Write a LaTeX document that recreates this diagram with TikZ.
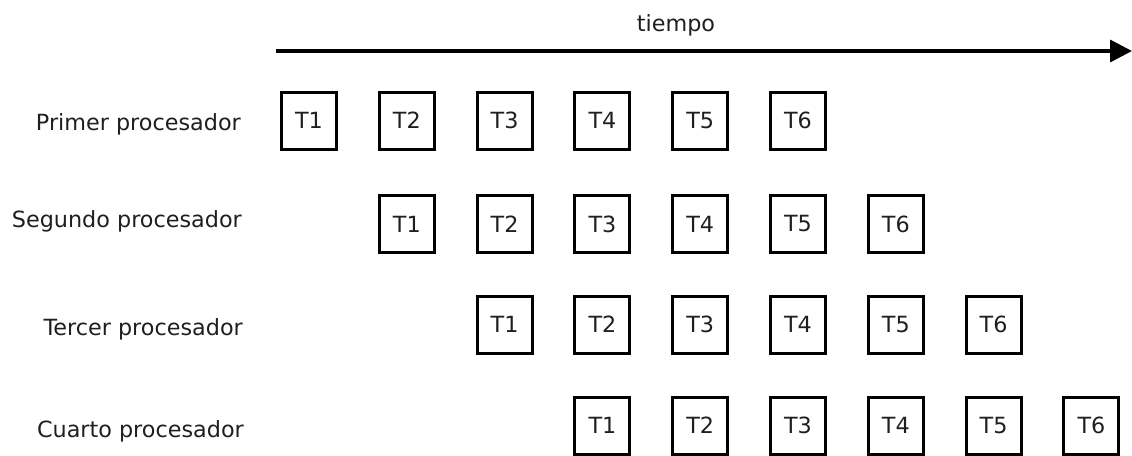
\documentclass[tikz,border=0pt]{standalone}
\usepackage{fontspec}
\setmainfont{DejaVu Sans}
\usetikzlibrary{arrows.meta}
\begin{document}
\begin{tikzpicture}[x=1pt,y=-1pt,
  every node/.style={font=\fontsize{22.3}{26}\selectfont, text=black!88},
  taskbox/.style={draw=black, line width=3pt, minimum width=55pt, minimum height=57pt, inner sep=0pt},
  proclabel/.style={anchor=east, inner sep=0pt},
  timeline/.style={line width=3.5pt, -{Triangle[length=22pt,width=22pt]}}]
\useasboundingbox (0,0) rectangle (1132,455);
\node (tiempo) at (676,25) {tiempo};
\coordinate (tstart) at (276,51);
\coordinate (tend) at (1132,51);
\draw[timeline] (tstart) -- (tend);
\node[proclabel] (p1) at (241,124) {Primer procesador};
\node[proclabel] (p2) at (242,221) {Segundo procesador};
\node[proclabel] (p3) at (243,329) {Tercer procesador};
\node[proclabel] (p4) at (244,431) {Cuarto procesador};
\foreach \r/\y in {1/120.5, 2/224, 3/324.5, 4/425.5} {
  \foreach \t in {1,...,6} {
    \pgfmathsetmacro{\xc}{309 + 97.8*(\r - 1 + \t - 1)}
    \node[taskbox] (r\r t\t) at (\xc,\y) {T\t};
  }
}
\end{tikzpicture}
\end{document}
